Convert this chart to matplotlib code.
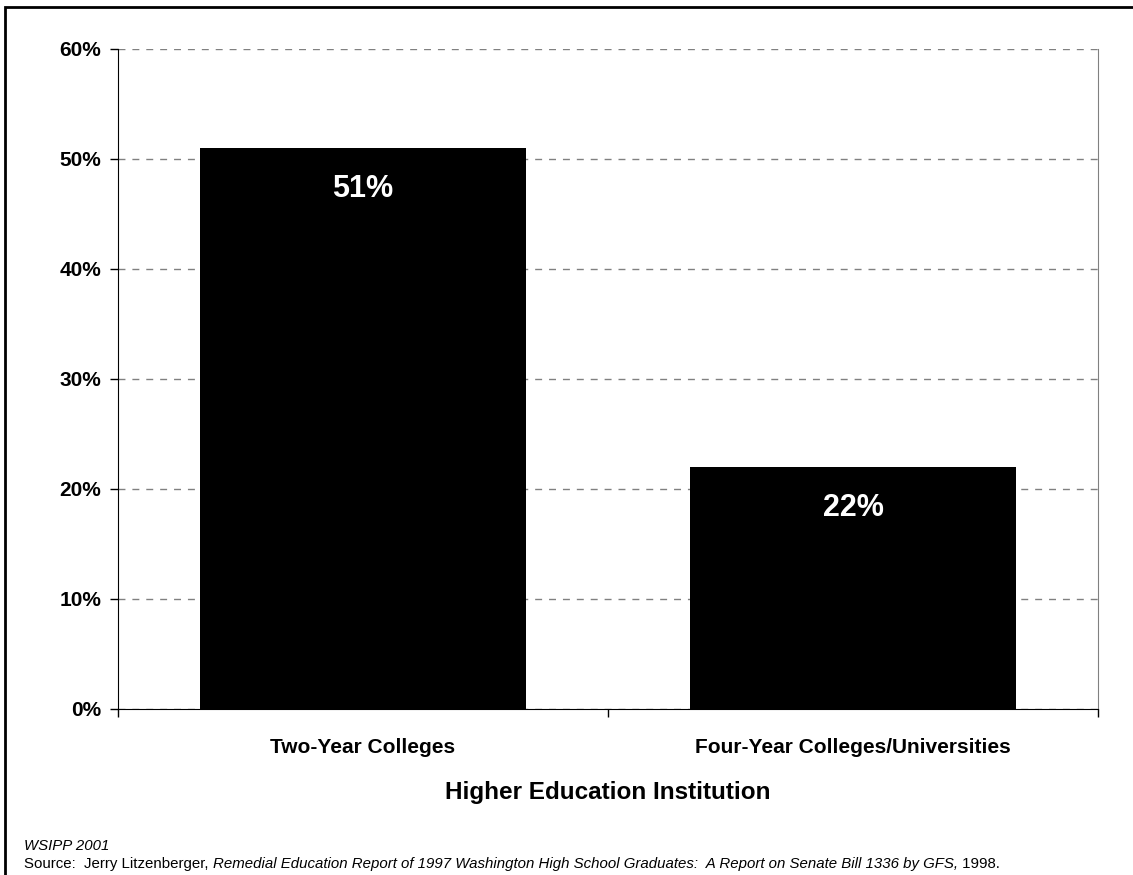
import matplotlib.pyplot as plt
from matplotlib.patches import Rectangle
from matplotlib.ticker import FuncFormatter, MultipleLocator

plt.rcParams["font.family"] = ["Liberation Sans", "DejaVu Sans"]

categories = ["Two-Year Colleges", "Four-Year Colleges/Universities"]
values = [51, 22]
value_labels = ["51%", "22%"]

W, H = 1133, 875
fig = plt.figure(figsize=(W / 100, H / 100), dpi=100)

# outer frame of the exhibit
fig.patches.append(Rectangle((5 / W, -0.01), 1.1, 1 - 7 / H + 0.01, transform=fig.transFigure,
                             fill=False, edgecolor="black", linewidth=2))

ax = fig.add_axes([118 / W, 1 - 709 / H, (1098 - 118) / W, (709 - 49) / H])

x = range(len(categories))
ax.bar(x, values, width=0.667, color="black", zorder=3)
ax.set_xlim(-0.5, len(categories) - 0.5)
ax.set_ylim(0, 60)

ax.yaxis.set_major_locator(MultipleLocator(10))
ax.yaxis.set_major_formatter(FuncFormatter(lambda v, _: f"{v:.0f}%"))
ax.grid(axis="y", color="#808080", linestyle=(0, (5, 5)), linewidth=1, zorder=0)
ax.set_axisbelow(True)

ax.set_xticks([-0.5, 0.5, 1.5])
ax.set_xticklabels([])
ax.set_xticks(list(x), minor=True)
ax.set_xticklabels(categories, minor=True, fontsize=15, fontweight="bold")
ax.tick_params(axis="x", which="major", direction="out", length=6, width=1)
ax.tick_params(axis="x", which="minor", length=0, pad=21)
ax.tick_params(axis="y", direction="out", length=6, width=1, labelsize=15, pad=6)
for lbl in ax.get_yticklabels():
    lbl.set_fontweight("bold")

ax.spines["top"].set_visible(False)
ax.spines["right"].set_color("#808080")
ax.spines["left"].set_color("black")
ax.spines["bottom"].set_color("black")
ax.spines["bottom"].set_zorder(4)

for xi, v, lbl in zip(x, values, value_labels):
    ax.text(xi, v - 3.7, lbl, ha="center", va="center", color="white",
            fontsize=22, fontweight="bold", zorder=4)

ax.set_xlabel("Higher Education Institution", fontsize=17.5, fontweight="bold", labelpad=17)

fy1, fy2 = 1 - 846 / H, 1 - 864 / H
fig.text(24 / W, fy1, "WSIPP 2001", fontsize=10.8, style="italic", va="center")
src = fig.text(24 / W, fy2, "Source:  Jerry Litzenberger, ", fontsize=10.8, va="center")
fig.canvas.draw()
r = fig.canvas.get_renderer()
bb = src.get_window_extent(r)
it = fig.text(bb.x1 / W, fy2,
              "Remedial Education Report of 1997 Washington High School Graduates:  "
              "A Report on Senate Bill 1336 by GFS,", fontsize=10.8, style="italic", va="center")
bb2 = it.get_window_extent(r)
fig.text(bb2.x1 / W, fy2, " 1998.", fontsize=10.8, va="center")

fig.savefig("out.png", dpi=100)
